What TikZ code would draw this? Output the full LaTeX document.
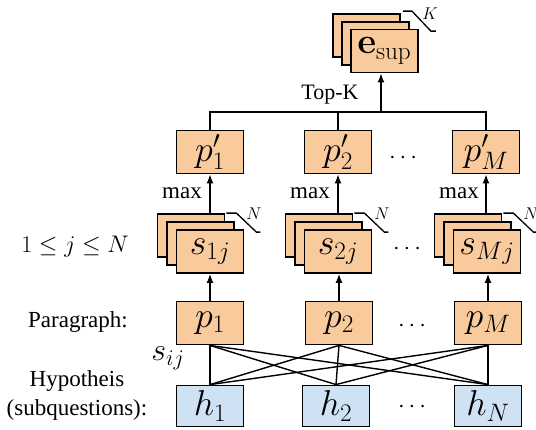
\RequirePackage{fix-cm}
\documentclass[tikz,border=0pt]{standalone}
\usepackage[no-math]{fontspec}
\setmainfont{Liberation Serif}
\usetikzlibrary{arrows.meta}

\definecolor{peach}{RGB}{249,203,156}
\definecolor{paleblue}{RGB}{207,226,243}

\tikzset{
  cell/.style={draw=black, line width=1.8pt, fill=peach, minimum width=67pt,
    minimum height=43pt, inner sep=0pt, font=\fontsize{36}{40}\selectfont},
  hcell/.style={cell, fill=paleblue, minimum height=41pt},
  link/.style={line width=1.4pt, draw=black},
  up/.style={link, -{Latex[length=9pt,width=7pt]}},
  lbl/.style={inner sep=0pt, font=\fontsize{23}{29}\selectfont},
  tinylbl/.style={inner sep=0pt, font=\fontsize{17}{20}\selectfont},
  dotlbl/.style={inner sep=0pt, font=\fontsize{24}{28}\selectfont},
  bracket/.style={line width=1.3pt, draw=black},
}

\begin{document}
\begin{tikzpicture}[x=1pt, y=-1pt]
  \useasboundingbox (0,0) rectangle (536,429);

  % aggregated evidence stack
  \node[cell] (eback) at (366.5,35.5) {};
  \node[cell] (emid)  at (375.5,43.5) {};
  \node[cell] (esup)  at (384.5,51)   {$\mathbf{e}_{\mathrm{sup}}$};
  \draw[bracket] ([xshift=2pt,yshift=2pt]eback.north east) -- ++(9,0) -- ++(19,20) -- ++(5,0);
  \node[tinylbl] (klab) at (430,14) {$K$};

  % paragraph scores after max pooling
  \node[cell] (pp1) at (210,152) {$p'_1$};
  \node[cell] (pp2) at (338,152) {$p'_2$};
  \node[cell] (pp3) at (486,152) {$p'_M$};
  \node[dotlbl] (ppdots) at (403,158) {$\cdots$};

  % Top-K selection bus
  \coordinate (bus) at (381,112);
  \draw[link] (pp1.north) -- (pp1.north |- bus) -- (pp3.north |- bus) -- (pp3.north);
  \draw[link] (pp2.north) -- (pp2.north |- bus);
  \draw[up] (bus) -- (bus |- esup.south);
  \node[lbl, font=\fontsize{22}{26}\selectfont] (topk) at (330,95) {Top-K};

  % score stacks s_{ij}
  \foreach \c/\x/\lab in {1/210/{s_{1j}}, 2/338/{s_{2j}}, 3/487/{s_{Mj}}} {
    \node[cell] (s\c back) at (\x-19,235.5) {};
    \node[cell] (s\c mid)  at (\x-9.5,243.5) {};
    \node[cell] (s\c)      at (\x,251.5) {$\lab$};
    \draw[bracket] ([xshift=1pt]s\c back.north east) -- ++(10,0) -- ++(20,19) -- ++(4,0);
    \node[tinylbl] (n\c) at (\x+44,214) {$N$};
    \node[lbl] (max\c) at (\x-28,193) {max};
    \draw[up] (pp\c.south |- s\c back.north) -- (pp\c.south);
  }
  \node[dotlbl] (sdots) at (407,249) {$\cdots$};

  % paragraphs
  \node[cell] (p1) at (210,323) {$p_1$};
  \node[cell] (p2) at (339,323) {$p_2$};
  \node[cell] (p3) at (488,323) {$p_M$};
  \node[dotlbl] (pdots) at (412,326) {$\cdots$};
  \foreach \c in {1,2,3} {
    \draw[up] (p\c.north) -- (p\c.north |- s\c.south);
  }

  % hypotheses
  \node[hcell] (h1) at (210,406) {$h_1$};
  \node[hcell] (h2) at (336,406) {$h_2$};
  \node[hcell] (h3) at (488,406) {$h_N$};
  \node[dotlbl] (hdots) at (412,407) {$\cdots$};

  % all-pairs links between paragraphs and hypotheses
  \foreach \i in {1,2,3} {
    \foreach \j in {1,2,3} {
      \draw[link] (p\i.south) -- (h\j.north);
    }
  }

  % row labels
  \node[dotlbl] (jrange) at (75,247) {$1\le j\le N$};
  \node[lbl] (paralab) at (78,322) {Paragraph:};
  \node[lbl, align=center] (hyplab) at (77,395) {Hypotheis\\(subquestions):};
  \node[inner sep=0pt, font=\fontsize{32}{36}\selectfont] (sij) at (168,358) {$s_{ij}$};
\end{tikzpicture}
\end{document}
